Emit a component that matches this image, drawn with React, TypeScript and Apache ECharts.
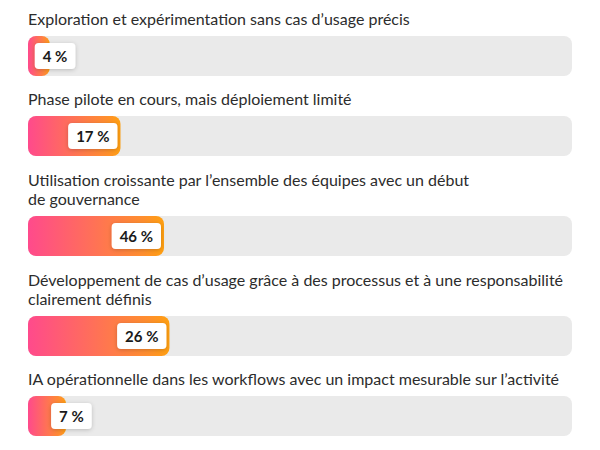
import React, { useEffect, useRef } from 'react';
import * as echarts from 'echarts';

// Maturity stages, one bar per stage
const categories = [
  'Exploration et expérimentation sans cas d’usage précis',
  'Phase pilote en cours, mais déploiement limité',
  'Utilisation croissante par l’ensemble des équipes avec un début\nde gouvernance',
  'Développement de cas d’usage grâce à des processus et à une responsabilité\nclairement définis',
  'IA opérationnelle dans les workflows avec un impact mesurable sur l’activité',
];

// Percentages printed in the labels
const labelValues = [4, 17, 46, 26, 7];

// Bar lengths as drawn in the source (the 46 % bar is drawn at about 25)
const barValues = [4, 17, 25, 26, 7];

const LEFT = 28;
const RIGHT = 28;
const BAR_H = 40;
const FIRST_BAR_TOP = 36;
const ROW_PITCH = 80;
const LINE_H = 19;

const App: React.FC = () => {
  const chartRef = useRef<HTMLDivElement>(null);

  useEffect(() => {
    if (!chartRef.current) return;
    const chart = echarts.init(chartRef.current, undefined, { renderer: 'svg' });

    const lineCounts = categories.map((c) => c.split('\n').length);
    const barTops: number[] = [];
    lineCounts.forEach((n, i) => {
      if (i === 0) barTops.push(FIRST_BAR_TOP);
      else barTops.push(barTops[i - 1] + ROW_PITCH + (n - 1) * 20);
    });

    const fontFamily = 'Lato, "Noto Sans", sans-serif';

    const option: echarts.EChartsOption = {
      animation: false,
      grid: categories.map((_, i) => ({
        left: LEFT,
        right: RIGHT,
        top: barTops[i],
        height: BAR_H,
      })),
      xAxis: categories.map((_, i) => ({
        type: 'value',
        gridIndex: i,
        min: 0,
        max: 100,
        show: false,
      })),
      yAxis: categories.map((_, i) => ({
        type: 'category',
        gridIndex: i,
        data: [''],
        show: false,
      })),
      graphic: categories.map((c, i) => ({
        type: 'text',
        left: LEFT,
        top: barTops[i] - 18 - (lineCounts[i] - 1) * LINE_H - LINE_H / 2,
        style: {
          text: c,
          fill: '#2c2c2c',
          font: `16px ${fontFamily}`,
          lineHeight: LINE_H,
        },
      })),
      series: categories.map((_, i) => {
        const small = barValues[i] < 10;
        return {
          type: 'bar',
          xAxisIndex: i,
          yAxisIndex: i,
          barWidth: BAR_H,
          data: [barValues[i]],
          showBackground: true,
          backgroundStyle: { color: '#EAEAEA', borderRadius: 8 },
          itemStyle: {
            borderRadius: 8,
            color: new echarts.graphic.LinearGradient(0, 0, 1, 0, [
              { offset: 0, color: '#FF4A8C' },
              { offset: 0.85, color: '#FF8F2E' },
              { offset: 1, color: '#FFA010' },
            ]),
          },
          label: {
            show: true,
            position: small ? 'right' : 'insideRight',
            distance: small ? 0 : 3,
            offset: small ? [-15, 0] : [0, 0],
            formatter: () => `${labelValues[i]} %`,
            color: '#1a1a1a',
            fontFamily,
            fontSize: 15,
            fontWeight: 'bold',
            backgroundColor: '#ffffff',
            borderRadius: 4,
            padding: [6, 8, 5, 8],
            shadowBlur: 4,
            shadowColor: 'rgba(0,0,0,0.2)',
            shadowOffsetY: 1,
          },
        } as echarts.BarSeriesOption;
      }),
    };

    chart.setOption(option);

    return () => {
      chart.dispose();
    };
  }, []);

  return (
    <div
      ref={chartRef}
      style={{ position: 'absolute', left: 0, top: 0, width: '600px', height: '450px' }}
    />
  );
};

export default App;
